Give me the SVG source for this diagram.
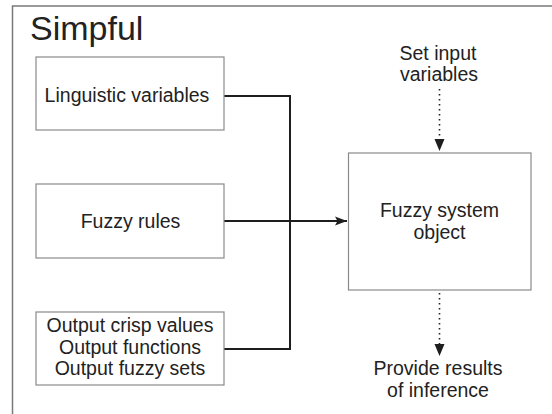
<svg xmlns="http://www.w3.org/2000/svg" width="552" height="414" viewBox="0 0 552 414">
<style>
.box{fill:#fff;stroke:#8a8a8a;stroke-width:1.2}
.t{font-family:"Liberation Sans",Arial,sans-serif;font-size:19.5px;fill:#222;text-anchor:middle}
.conn{fill:none;stroke:#1e1e1e;stroke-width:2}
.dot{fill:none;stroke:#222;stroke-width:1.6;stroke-dasharray:1.6 3.4}
</style>
<defs>
<marker id="ah" markerWidth="12" markerHeight="10" viewBox="0 0 12 10" refX="12" refY="5" orient="auto" markerUnits="userSpaceOnUse">
<path d="M0,0.5 L12,5 L0,9.5 L2.5,5 Z" fill="#1e1e1e"/>
</marker>
</defs>
<rect width="552" height="414" fill="#fff"/>
<g id="frame">
<path d="M12.5,414 V6 H552" fill="none" stroke="#7a7a7a" stroke-width="1.5"/>
<text x="30" y="40" style="font-family:'Liberation Sans',Arial,sans-serif;font-size:34px;fill:#222">Simpful</text>
</g>
<g id="connectors">
<path class="conn" d="M224,96 H290 V349 H224"/>
<path class="conn" d="M224,221 H347" marker-end="url(#ah)"/>
<path class="dot" d="M439.5,89 V139"/>
<path d="M434.5,139 L439.5,151 L444.5,139 Z" fill="#1e1e1e"/>
<path class="dot" d="M439.5,293 V344"/>
<path d="M434.5,344 L439.5,356 L444.5,344 Z" fill="#1e1e1e"/>
</g>
<g id="linguistic">
<rect class="box" x="36" y="57" width="188" height="73"/>
<text class="t" x="127" y="101.5">Linguistic variables</text>
</g>
<g id="rules">
<rect class="box" x="36" y="184" width="188" height="74"/>
<text class="t" x="130.5" y="228">Fuzzy rules</text>
</g>
<g id="outputs">
<rect class="box" x="36" y="312" width="188" height="73"/>
<text class="t" x="130" y="331.5">Output crisp values</text>
<text class="t" x="130" y="353.5">Output functions</text>
<text class="t" x="130" y="375">Output fuzzy sets</text>
</g>
<g id="system">
<rect class="box" x="348.5" y="153" width="182.5" height="137"/>
<text class="t" x="439.5" y="216.5">Fuzzy system</text>
<text class="t" x="439.5" y="239">object</text>
</g>
<g id="input">
<text class="t" x="438" y="59.5">Set input</text>
<text class="t" x="439" y="81">variables</text>
</g>
<g id="results">
<text class="t" x="438" y="375">Provide results</text>
<text class="t" x="438" y="397">of inference</text>
</g>
</svg>
